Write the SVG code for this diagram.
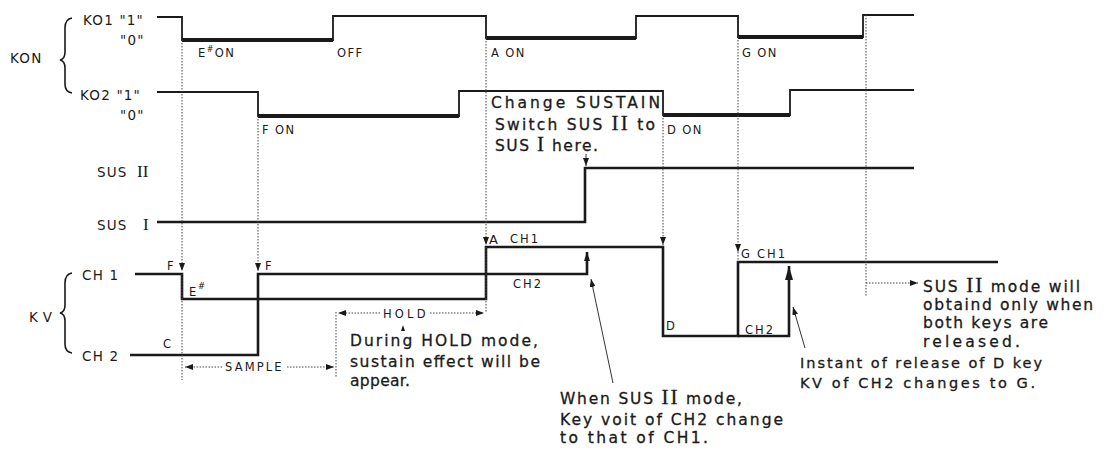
<svg xmlns="http://www.w3.org/2000/svg" width="1104" height="451" viewBox="0 0 1104 451">
<style>
text{font-family:"DejaVu Sans","Liberation Sans",sans-serif;fill:#1a1a1a}
.lab{font-size:13.5px;letter-spacing:1.2px}
.sm{font-size:11.5px;letter-spacing:1.4px}
.ann{font-size:15.5px;stroke:#1a1a1a;stroke-width:0.3}
.rn{font-family:"Liberation Serif","DejaVu Serif",serif;font-size:21px}
.rnl{font-family:"Liberation Serif","DejaVu Serif",serif;font-size:17px}
.thin{fill:none;stroke:#1a1a1a;stroke-width:1.8}
.thick{fill:none;stroke:#1a1a1a;stroke-width:4}
.sig{fill:none;stroke:#1a1a1a;stroke-width:2.6}
.dot{fill:none;stroke:#444;stroke-width:1;stroke-dasharray:1.5 1.5}
.ptr{fill:none;stroke:#333;stroke-width:1}
.brace{fill:none;stroke:#1a1a1a;stroke-width:1.6}
</style>
<defs>
<marker id="ah" viewBox="0 0 8 6" refX="8" refY="3" markerWidth="8" markerHeight="6" markerUnits="userSpaceOnUse" orient="auto"><path d="M0,0L8,3L0,6z" fill="#1a1a1a"/></marker>
<marker id="ahm" viewBox="0 0 9 6" refX="9" refY="3" markerWidth="9" markerHeight="6" markerUnits="userSpaceOnUse" orient="auto"><path d="M0,0L9,3L0,6z" fill="#1a1a1a"/></marker>
<marker id="ahb" viewBox="0 0 14 8" refX="14" refY="4" markerWidth="14" markerHeight="8" markerUnits="userSpaceOnUse" orient="auto"><path d="M0,0L14,4L0,8z" fill="#1a1a1a"/></marker>
</defs>

<g id="labels">
<text class="lab" x="10" y="63">KON</text>
<path class="brace" d="M72,18 Q65,19 65,28 L65,52 Q65,59 60,60 Q65,61 65,68 L65,84 Q65,92 72,93"/>
<text class="lab" x="83" y="25">KO1 "1"</text>
<text class="lab" x="120" y="45">"0"</text>
<text class="lab" x="80" y="100">KO2 "1"</text>
<text class="lab" x="120" y="120">"0"</text>
<text class="lab" x="97" y="177">SUS</text><text class="rnl" x="137" y="177">II</text>
<text class="lab" x="97" y="230">SUS</text><text class="rnl" x="143" y="230">I</text>
<text class="lab" x="29" y="322" style="letter-spacing:5px">KV</text>
<path class="brace" d="M72,273 Q65,274 65,283 L65,305 Q65,312 60,313 Q65,314 65,321 L65,344 Q65,352 72,353"/>
<text class="lab" x="82" y="280">CH 1</text>
<text class="lab" x="82" y="361">CH 2</text>
</g>

<g id="signal-ko1">
<path class="thin" d="M157,17 H182 V40 H333 V16 H486 V38 H636 V16 H738 V37 H863 V15 H914"/>
<path class="thick" d="M182,40 H333 M486,38 H636 M738,37 H863"/>
<text class="sm" x="198" y="57">E<tspan dy="-5" font-size="8">#</tspan><tspan dy="5">ON</tspan></text>
<text class="sm" x="337" y="57">OFF</text>
<text class="sm" x="491" y="57">A  ON</text>
<text class="sm" x="742" y="57">G ON</text>
</g>

<g id="signal-ko2">
<path class="thin" d="M157,92 H258 V116 H459 V91 H663 V115 H790 V90 H914"/>
<path class="thick" d="M258,116 H459 M663,115 H790"/>
<text class="sm" x="262" y="134">F ON</text>
<text class="sm" x="667" y="134">D ON</text>
</g>

<g id="signal-sus">
<path class="sig" d="M157,222 H585 V168 H914"/>
</g>

<g id="signal-kv">
<path class="sig" d="M135,274 H182 V299 H486 V247 H663 V336 H738 V262 H998"/>
<path class="sig" d="M130,355 H258 V274 H587 V252" marker-end="url(#ahm)"/>
<path class="sig" d="M738,336 H789 V266" marker-end="url(#ahb)"/>
<text class="sm" x="167" y="270">F</text>
<text class="sm" x="265" y="270">F</text>
<text class="sm" x="189" y="296">E<tspan dy="-7" font-size="9">#</tspan></text>
<text class="sm" x="163" y="348">C</text>
<text x="489" y="244" style="font-size:13px">A</text>
<text class="sm" x="510" y="243" style="letter-spacing:2px">CH1</text>
<text class="sm" x="513" y="288" style="letter-spacing:2px">CH2</text>
<text class="sm" x="666" y="330">D</text>
<text class="sm" x="741" y="258">G</text>
<text class="sm" x="757" y="258" style="letter-spacing:2px">CH1</text>
<text class="sm" x="745" y="334" style="letter-spacing:2px">CH2</text>
</g>

<g id="connectors">
<path class="dot" d="M182,40 V271" marker-end="url(#ah)"/>
<path class="dot" d="M182,274 V380"/>
<path class="dot" d="M258,116 V271" marker-end="url(#ah)"/>
<path class="dot" d="M336,312 V378"/>
<path class="dot" d="M486,38 V245" marker-end="url(#ah)"/>
<path class="dot" d="M486,247 V313"/>
<path class="dot" d="M663,115 V245" marker-end="url(#ah)"/>
<path class="dot" d="M738,37 V252" marker-end="url(#ah)"/>
<path class="dot" d="M738,252 V262"/>
<path class="dot" d="M866,15 V297"/>
<path class="dot" d="M866,283 H918" marker-end="url(#ah)"/>
<path class="ptr" d="M586,154 V166" marker-end="url(#ah)"/>
<path class="dot" d="M222,367 H185" marker-end="url(#ah)"/>
<path class="dot" d="M287,367 H334" marker-end="url(#ah)"/>
<path class="dot" d="M380,313 H338" marker-end="url(#ah)"/>
<path class="dot" d="M430,313 H484" marker-end="url(#ah)"/>
<polygon points="401,331 403,325 405,331" fill="#1a1a1a"/>
<path class="ptr" d="M613,383 L591,279" marker-end="url(#ah)"/>
<path class="ptr" d="M805,348 L793,307" marker-end="url(#ah)"/>
</g>

<g id="timing-labels">
<text class="sm" x="225" y="371" textLength="58" lengthAdjust="spacing">SAMPLE</text>
<text class="sm" x="383" y="318" textLength="44" lengthAdjust="spacing">HOLD</text>
</g>

<g id="annotations">
<text class="ann" x="491" y="108" textLength="169" lengthAdjust="spacing">Change SUSTAIN</text>
<text class="ann" x="495" y="130" textLength="160" lengthAdjust="spacing">Switch SUS <tspan class="rn">II</tspan> to</text>
<text class="ann" x="495" y="151" textLength="103" lengthAdjust="spacing">SUS <tspan class="rn">I</tspan> here.</text>
<text class="ann" x="350" y="346" textLength="188" lengthAdjust="spacing">During HOLD mode,</text>
<text class="ann" x="350" y="367" textLength="190" lengthAdjust="spacing">sustain effect will be</text>
<text class="ann" x="350" y="386" textLength="60" lengthAdjust="spacing">appear.</text>
<text class="ann" x="560" y="404" textLength="182" lengthAdjust="spacing">When SUS <tspan class="rn">II</tspan> mode,</text>
<text class="ann" x="560" y="425" textLength="223" lengthAdjust="spacing">Key voit of CH2 change</text>
<text class="ann" x="560" y="443" textLength="148" lengthAdjust="spacing">to that of CH1.</text>
<text class="ann" x="800" y="368" textLength="242" lengthAdjust="spacing" style="font-size:14.5px">Instant of release of D key</text>
<text class="ann" x="800" y="388" textLength="235" lengthAdjust="spacing" style="font-size:14.5px">KV of CH2 changes to G.</text>
<text class="ann" x="923" y="292" textLength="157" lengthAdjust="spacing">SUS <tspan class="rn">II</tspan> mode will</text>
<text class="ann" x="923" y="310" textLength="170" lengthAdjust="spacing">obtaind only when</text>
<text class="ann" x="923" y="328" textLength="125" lengthAdjust="spacing">both keys are</text>
<text class="ann" x="923" y="347" textLength="97" lengthAdjust="spacing">released.</text>
</g>
</svg>
